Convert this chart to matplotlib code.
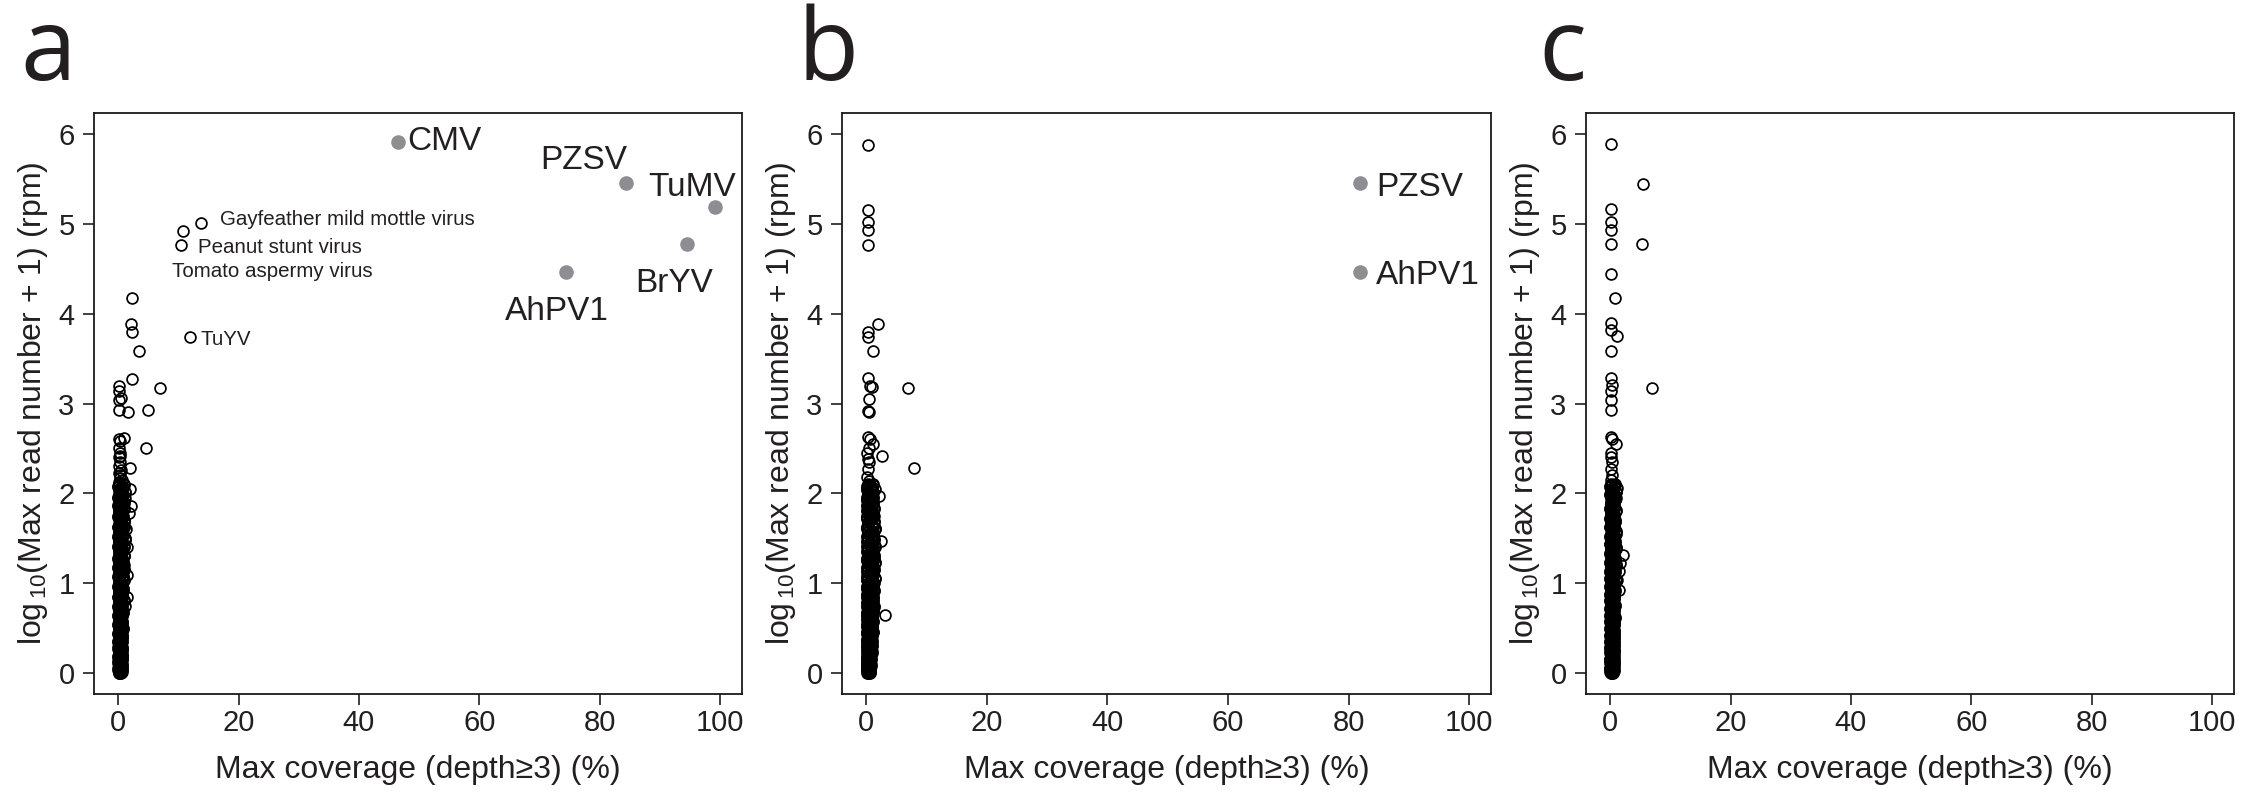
import matplotlib
matplotlib.use("Agg")
import matplotlib.pyplot as plt

plt.rcParams['font.family'] = ['Liberation Sans', 'DejaVu Sans']
plt.rcParams['mathtext.fontset'] = 'custom'
plt.rcParams['mathtext.rm'] = 'Liberation Sans'
plt.rcParams['mathtext.it'] = 'Liberation Sans'

TXT = '#231f20'
GREY = '#8e8e92'

# ---------------- data ----------------
x_ticks = [0, 20, 40, 60, 80, 100]
y_ticks = [0, 1, 2, 3, 4, 5, 6]
x_label = 'Max coverage (depth\u22653) (%)'
y_label = r'log$_{\,10}$(Max read number + 1) (rpm)'
panel_letters = ['a', 'b', 'c']

# dense low-coverage column (shared y levels, panel specific x)
core_y = [0.00, 0.00, 0.01, 0.02, 0.03, 0.05, 0.06, 0.08, 0.09, 0.11,
          0.12, 0.14, 0.15, 0.17, 0.18, 0.20, 0.22, 0.23, 0.25, 0.27,
          0.28, 0.30, 0.32, 0.34, 0.35, 0.37, 0.39, 0.41, 0.43, 0.45,
          0.47, 0.49, 0.51, 0.53, 0.55, 0.57, 0.59, 0.61, 0.63, 0.65,
          0.67, 0.69, 0.71, 0.73, 0.75, 0.78, 0.80, 0.82, 0.84, 0.87,
          0.89, 0.91, 0.93, 0.96, 0.98, 1.00, 1.03, 1.05, 1.07, 1.10,
          1.12, 1.15, 1.17, 1.20, 1.22, 1.25, 1.27, 1.30, 1.32, 1.35,
          1.38, 1.40, 1.43, 1.46, 1.48, 1.51, 1.54, 1.57, 1.60, 1.62,
          1.65, 1.68, 1.71, 1.74, 1.77, 1.80, 1.83, 1.86, 1.89, 1.92,
          1.95, 1.98, 2.01, 2.04, 2.07, 2.10]
core_y2 = [0.01, 0.02, 0.03, 0.04, 0.05, 0.06, 0.07, 0.10, 0.10, 0.13,
           0.13, 0.16, 0.16, 0.19, 0.19, 0.21, 0.24, 0.24, 0.26, 0.29,
           0.29, 0.31, 0.33, 0.36, 0.36, 0.38, 0.40, 0.42, 0.44, 0.46,
           0.48, 0.50, 0.52, 0.54, 0.56, 0.58, 0.60, 0.62, 0.64, 0.66,
           0.68, 0.70, 0.72, 0.74, 0.76, 0.79, 0.81, 0.83, 0.85, 0.88,
           0.90, 0.92, 0.94, 0.97, 0.99, 1.01, 1.04, 1.06, 1.08, 1.11,
           1.13, 1.16, 1.18, 1.21, 1.23, 1.26, 1.28, 1.31, 1.33, 1.36,
           1.39, 1.41, 1.44, 1.47, 1.49, 1.52, 1.55, 1.58, 1.61, 1.63,
           1.66, 1.69, 1.72, 1.75, 1.78, 1.81, 1.84, 1.87, 1.90, 1.93,
           1.96, 1.99, 2.02, 2.05, 2.08, 2.09]

a_core_x1 = [0.2, 0.1, 0.3, 0.2, 0.0, 0.1, 0.3, 0.2, 0.1, 0.0,
             0.2, 0.3, 0.1, 0.2, 0.0, 0.3, 0.1, 0.2, 0.3, 0.0,
             0.2, 0.1, 0.3, 0.0, 0.2, 0.1, 0.3, 0.2, 0.0, 0.1,
             0.3, 0.2, 0.1, 0.0, 0.2, 0.3, 0.1, 0.2, 0.0, 0.3,
             0.1, 0.2, 0.3, 0.0, 0.2, 0.1, 0.3, 0.2, 0.0, 0.1,
             0.2, 0.3, 0.1, 0.0, 0.2, 0.3, 0.1, 0.2, 0.0, 0.3,
             0.1, 0.2, 0.0, 0.3, 0.2, 0.1, 0.0, 0.2, 0.3, 0.1,
             0.2, 0.0, 0.3, 0.1, 0.2, 0.0, 0.3, 0.2, 0.1, 0.0,
             0.2, 0.3, 0.1, 0.0, 0.2, 0.1, 0.3, 0.0, 0.2, 0.1,
             0.0, 0.2, 0.3, 0.1, 0.0, 0.2]
a_core_x2 = [0.5, 0.4, 0.6, 0.5, 0.4, 0.6, 0.5, 0.4, 0.6, 0.5,
             0.4, 0.6, 0.5, 0.7, 0.4, 0.6, 0.5, 0.4, 0.6, 0.5,
             0.7, 0.4, 0.5, 0.6, 0.4, 0.5, 0.7, 0.6, 0.4, 0.5,
             0.6, 0.8, 0.5, 0.4, 0.6, 0.7, 0.5, 0.4, 0.6, 0.5,
             0.8, 0.6, 0.5, 0.7, 0.4, 0.6, 0.9, 0.5, 0.6, 0.7,
             0.5, 0.8, 0.6, 0.4, 0.7, 0.5, 0.9, 0.6, 0.8, 0.5,
             0.7, 1.0, 0.6, 0.5, 0.8, 0.7, 0.6, 1.0, 0.5, 0.7,
             0.6, 0.9, 0.5, 0.7, 1.1, 0.6, 0.8, 0.5, 0.7, 0.9,
             0.6, 1.0, 0.5, 0.8, 0.7, 0.6, 0.9, 0.5, 1.0, 0.7,
             0.6, 0.8, 1.2, 0.7, 0.6, 0.9]

b_core_x1 = [0.3, 0.2, 0.4, 0.3, 0.1, 0.2, 0.4, 0.3, 0.2, 0.1,
             0.3, 0.4, 0.2, 0.3, 0.1, 0.4, 0.2, 0.3, 0.4, 0.1,
             0.3, 0.2, 0.4, 0.1, 0.3, 0.2, 0.5, 0.3, 0.1, 0.2,
             0.4, 0.3, 0.2, 0.1, 0.3, 0.5, 0.2, 0.3, 0.1, 0.4,
             0.2, 0.3, 0.5, 0.1, 0.3, 0.2, 0.4, 0.3, 0.1, 0.2,
             0.3, 0.5, 0.2, 0.1, 0.3, 0.4, 0.2, 0.3, 0.1, 0.5,
             0.2, 0.3, 0.1, 0.4, 0.3, 0.2, 0.1, 0.3, 0.5, 0.2,
             0.3, 0.1, 0.4, 0.2, 0.3, 0.1, 0.4, 0.3, 0.2, 0.1,
             0.3, 0.4, 0.2, 0.1, 0.3, 0.2, 0.4, 0.1, 0.3, 0.2,
             0.1, 0.3, 0.4, 0.2, 0.1, 0.3]
b_core_x2 = [0.6, 0.5, 0.7, 0.6, 0.5, 0.7, 0.6, 0.8, 0.6, 0.5,
             0.7, 0.6, 0.8, 0.7, 0.5, 0.6, 0.9, 0.7, 0.6, 0.8,
             0.7, 0.9, 0.6, 0.8, 1.0, 0.7, 0.6, 0.9, 0.8, 1.1,
             0.7, 0.9, 1.0, 0.8, 0.7, 1.2, 0.9, 0.8, 1.0, 0.7,
             1.1, 0.9, 0.8, 1.3, 1.0, 0.9, 1.2, 0.8, 1.1, 1.0,
             0.9, 1.3, 1.0, 0.8, 1.2, 1.1, 0.9, 1.4, 1.0, 1.2,
             0.9, 1.3, 1.1, 1.0, 1.4, 1.2, 0.9, 1.3, 1.1, 1.0,
             1.2, 1.4, 0.9, 1.1, 1.3, 1.0, 1.2, 0.9, 1.4, 1.1,
             1.0, 1.3, 0.9, 1.2, 1.1, 1.0, 1.3, 0.9, 1.2, 1.0,
             1.1, 0.9, 1.2, 1.0, 0.8, 1.1]

c_core_x1 = [0.1, 0.2, 0.0, 0.2, 0.1, 0.0, 0.2, 0.1, 0.3, 0.0,
             0.1, 0.2, 0.0, 0.3, 0.1, 0.2, 0.0, 0.1, 0.2, 0.3,
             0.0, 0.1, 0.2, 0.0, 0.3, 0.1, 0.2, 0.0, 0.1, 0.3,
             0.2, 0.0, 0.1, 0.2, 0.3, 0.0, 0.2, 0.1, 0.0, 0.2,
             0.3, 0.1, 0.0, 0.2, 0.1, 0.3, 0.0, 0.2, 0.1, 0.0,
             0.3, 0.2, 0.1, 0.0, 0.2, 0.1, 0.3, 0.0, 0.2, 0.1,
             0.0, 0.3, 0.2, 0.1, 0.0, 0.2, 0.3, 0.1, 0.0, 0.2,
             0.1, 0.3, 0.0, 0.2, 0.1, 0.0, 0.2, 0.3, 0.1, 0.0,
             0.2, 0.1, 0.0, 0.3, 0.2, 0.1, 0.0, 0.2, 0.1, 0.3,
             0.2, 0.0, 0.1, 0.2, 0.0, 0.1]
c_core_x2 = [0.4, 0.5, 0.4, 0.6, 0.5, 0.4, 0.5, 0.6, 0.4, 0.5,
             0.6, 0.4, 0.5, 0.6, 0.4, 0.5, 0.7, 0.4, 0.6, 0.5,
             0.4, 0.6, 0.5, 0.7, 0.4, 0.5, 0.6, 0.4, 0.7, 0.5,
             0.6, 0.4, 0.5, 0.7, 0.6, 0.4, 0.5, 0.8, 0.6, 0.5,
             0.4, 0.7, 0.5, 0.6, 0.8, 0.5, 0.4, 0.6, 0.7, 0.5,
             0.6, 0.8, 0.5, 0.7, 0.4, 0.6, 0.9, 0.5, 0.7, 0.6,
             0.8, 0.5, 0.6, 0.9, 0.7, 0.5, 0.8, 0.6, 0.5, 0.7,
             0.9, 0.6, 0.5, 0.8, 0.6, 0.7, 0.5, 0.9, 0.6, 0.7,
             0.5, 0.8, 0.6, 0.7, 0.5, 0.9, 0.6, 0.7, 0.5, 0.8,
             0.6, 0.7, 0.9, 0.5, 0.6, 0.8]

# individual open-circle points
a_pts_x = [13.8, 10.8, 10.4, 12.0, 2.3, 2.2, 2.3, 3.5, 2.3, 7.0,
           0.2, 0.2, 0.2, 0.5, 0.2, 1.7, 5.0, 0.2, 1.0, 0.4,
           4.6, 0.2, 0.3, 0.1, 0.4, 0.2, 0.5, 2.0, 0.3, 0.6,
           1.9, 2.1, 1.8, 1.2, 1.0, 1.3, 1.1, 1.4, 0.9, 1.5,
           1.4, 1.2, 1.0, 0.8, 0.1, 0.3, 0.2, 0.4]
a_pts_y = [5.01, 4.92, 4.76, 3.74, 4.17, 3.89, 3.80, 3.58, 3.27, 3.17,
           3.19, 3.14, 3.04, 3.06, 2.93, 2.90, 2.93, 2.61, 2.62, 2.58,
           2.51, 2.50, 2.45, 2.40, 2.35, 2.30, 2.26, 2.28, 2.20, 2.15,
           2.05, 1.86, 1.78, 1.95, 1.70, 1.60, 1.50, 1.40, 1.30, 1.09,
           0.85, 0.74, 1.20, 0.95, 2.13, 2.17, 2.23, 2.42]

b_pts_x = [0.3, 0.3, 0.3, 0.3, 0.3, 1.9, 0.3, 0.3, 1.1, 0.3,
           0.6, 0.9, 6.9, 0.4, 0.3, 0.4, 0.3, 0.6, 2.6, 1.2,
           7.9, 0.3, 0.5, 0.2, 2.1, 1.4, 1.2, 2.4, 1.5, 1.3,
           1.2, 1.35, 1.2, 3.2, 1.0, 1.3, 0.4, 0.2, 0.5, 0.3]
b_pts_y = [5.88, 5.16, 5.02, 4.93, 4.77, 3.88, 3.80, 3.74, 3.58, 3.28,
           3.19, 3.18, 3.17, 3.05, 2.92, 2.90, 2.63, 2.60, 2.41, 2.55,
           2.28, 2.27, 2.35, 2.45, 1.97, 2.05, 1.90, 1.47, 1.60, 1.28,
           1.10, 1.00, 0.70, 0.64, 0.85, 1.75, 2.50, 2.18, 2.14, 2.38]

c_pts_x = [0.2, 5.4, 0.2, 0.2, 0.2, 0.2, 5.3, 0.2, 0.8, 0.2,
           0.2, 1.1, 0.2, 0.2, 0.3, 0.2, 6.9, 0.2, 0.2, 0.2,
           0.4, 1.0, 0.2, 0.3, 0.2, 1.1, 0.9, 0.8, 1.0, 2.2,
           1.7, 1.4, 1.2, 1.4, 0.9, 0.1, 0.4, 0.2]
c_pts_y = [5.89, 5.44, 5.17, 5.02, 4.93, 4.78, 4.78, 4.44, 4.17, 3.90,
           3.82, 3.75, 3.59, 3.28, 3.21, 3.14, 3.17, 3.04, 2.93, 2.63,
           2.60, 2.55, 2.45, 2.35, 2.27, 2.06, 1.95, 1.70, 1.55, 1.31,
           1.22, 1.13, 1.03, 0.92, 1.40, 2.15, 2.20, 2.40]

# highlighted (grey) viruses
a_hi_names = ['CMV', 'PZSV', 'TuMV', 'BrYV', 'AhPV1']
a_hi_x = [46.4, 84.4, 99.1, 94.4, 74.4]
a_hi_y = [5.91, 5.45, 5.19, 4.78, 4.46]
b_hi_names = ['PZSV', 'AhPV1']
b_hi_x = [81.8, 81.8]
b_hi_y = [5.45, 4.46]

# small labels of open circles in panel a
a_small_labels = ['Gayfeather mild mottle virus', 'Peanut stunt virus',
                  'Tomato aspermy virus', 'TuYV']

# ---------------- figure ----------------
W, H = 2251, 807
fig = plt.figure(figsize=(W / 100, H / 100), dpi=100)

lefts = [94, 842, 1586]
widths = [648, 649, 648]
top_px, bot_px = 113, 694
letter_x = [20, 798, 1538]

core_sets = [(a_core_x1, a_core_x2), (b_core_x1, b_core_x2), (c_core_x1, c_core_x2)]
pts_sets = [(a_pts_x, a_pts_y), (b_pts_x, b_pts_y), (c_pts_x, c_pts_y)]

axes = []
for i in range(3):
    ax = fig.add_axes([lefts[i] / W, 1 - bot_px / H, widths[i] / W, (bot_px - top_px) / H])
    axes.append(ax)
    ax.set_xlim(-4, 103.6)
    ax.set_ylim(-0.235, 6.235)
    ax.set_xticks(x_ticks)
    ax.set_yticks(y_ticks)
    ax.tick_params(direction='out', length=8, width=1.2, labelsize=21,
                   colors=TXT, labelcolor=TXT)
    ax.tick_params(axis='x', pad=3)
    ax.tick_params(axis='y', pad=6)
    for s in ax.spines.values():
        s.set_linewidth(1.3)
        s.set_color('#1a1a1a')
    ax.set_xlabel(x_label, fontsize=23, color=TXT, labelpad=13)
    ax.set_ylabel(y_label, fontsize=23, color=TXT, labelpad=6)

    cx1, cx2 = core_sets[i]
    mk = dict(linestyle='none', marker='o', mfc='none', mec='black', ms=7.8, mew=1.25)
    ax.plot(cx1, core_y, **mk)
    ax.plot(cx2, core_y, **mk)
    ax.plot(cx1, core_y2, **mk)
    ax.plot(cx2, core_y2, **mk)
    px, py = pts_sets[i]
    ax.plot(px, py, **mk)

    fig.text(letter_x[i] / W, 1 - 80 / H, panel_letters[i], fontsize=72,
             family=['Open Sans', 'DejaVu Sans'], color=TXT,
             ha='left', va='baseline')

# panel a highlights
ax = axes[0]
ax.plot(a_hi_x, a_hi_y, linestyle='none', marker='o', color=GREY, ms=10.5, mew=0)
big = dict(fontsize=24, color=TXT, va='center')
ax.text(48.0, 5.92, a_hi_names[0], ha='left', **big)
ax.text(77.3, 5.71, a_hi_names[1], ha='center', **big)
ax.text(88.0, 5.40, a_hi_names[2], ha='left', **big)
ax.text(92.4, 4.34, a_hi_names[3], ha='center', **big)
ax.text(72.9, 4.03, a_hi_names[4], ha='center', **big)
small = dict(fontsize=14.8, color=TXT, va='center', ha='left')
ax.text(16.9, 5.05, a_small_labels[0], **small)
ax.text(13.3, 4.74, a_small_labels[1], **small)
ax.text(9.0, 4.47, a_small_labels[2], **small)
ax.text(13.7, 3.71, a_small_labels[3], **small)

# panel b highlights
ax = axes[1]
ax.plot(b_hi_x, b_hi_y, linestyle='none', marker='o', color=GREY, ms=10.5, mew=0)
ax.text(84.6, 5.41, b_hi_names[0], ha='left', **big)
ax.text(84.6, 4.43, b_hi_names[1], ha='left', **big)

fig.savefig('out.png', dpi=100, facecolor='white')
